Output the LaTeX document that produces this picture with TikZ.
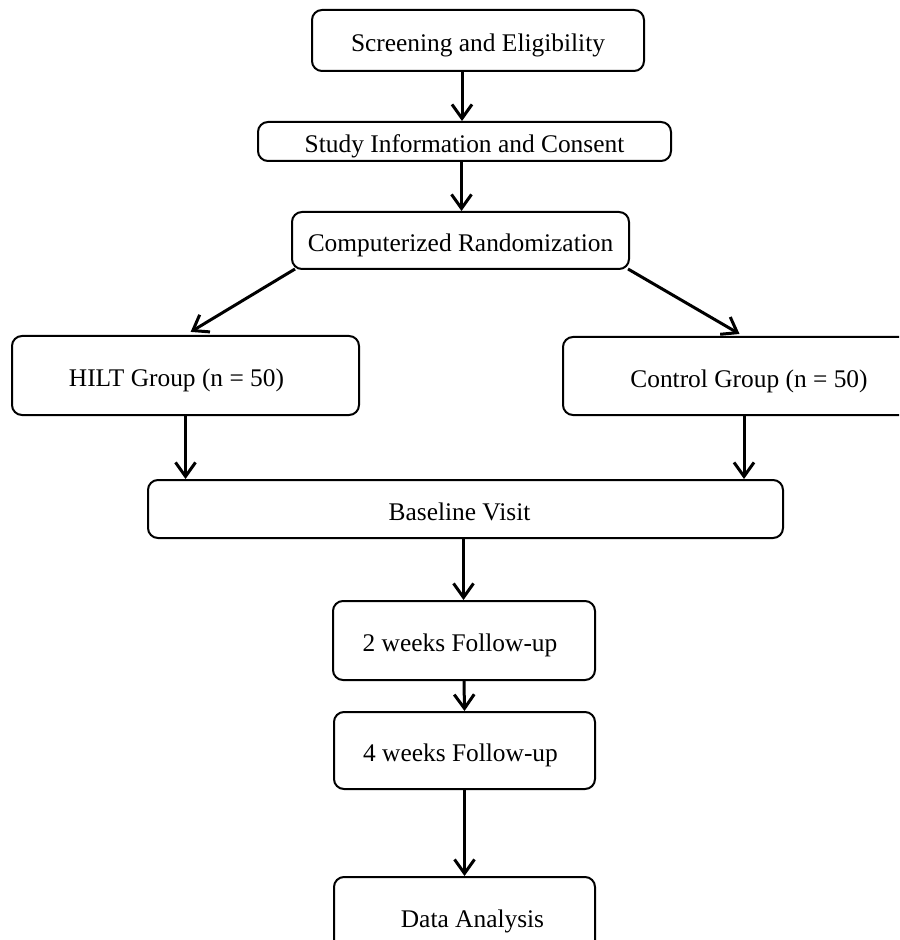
\documentclass[tikz,border=0pt]{standalone}
\usepackage{fontspec}
\setmainfont{Liberation Serif}
\usetikzlibrary{arrows.meta}
\begin{document}
\begin{tikzpicture}[x=0.5pt,y=-0.5pt,
  box/.style={draw,line width=1pt,rounded corners=5pt,inner sep=0pt,
    text height=11.3pt,text depth=0pt,font=\fontsize{12.7}{15}\selectfont},
  flow/.style={line width=1.5pt,-{Straight Barb[length=7pt,width=10pt,line width=1.5pt]}}]
\useasboundingbox (0,0) rectangle (899,940);
\clip (0,0) rectangle (899,940);
% boxes
\node[box,minimum width=166pt,minimum height=30.5pt] (screen) at (478,40.5) {Screening and Eligibility};
\node[box,minimum width=206.5pt,minimum height=19.5pt] (consent) at (464.5,141.5) {Study Information and Consent};
\node[box,minimum width=168.5pt,minimum height=28.5pt] (random) at (460.5,240.5) {Computerized Randomization};
\node[box,minimum width=173.5pt,minimum height=39.5pt] (hilt) at (185.5,375.5) {\hspace*{-9pt}HILT Group (n = 50)};
\node[box,minimum width=186pt,minimum height=39pt] (control) at (749,376) {Control Group (n = 50)};
\node[box,minimum width=317.5pt,minimum height=29pt] (base) at (465.5,509) {\hspace*{-6pt}Baseline Visit};
\node[box,minimum width=131pt,minimum height=39.5pt] (two) at (464,640.5) {\hspace*{-4pt}2 weeks Follow-up};
\node[box,minimum width=130.5pt,minimum height=38.5pt] (four) at (464.5,750.5) {\hspace*{-4pt}4 weeks Follow-up};
\node[box,minimum width=130.5pt,minimum height=39.5pt] (data) at (464.5,916.5) {\hspace*{8pt}Data Analysis};
% arrows
\draw[flow] ([xshift=-8pt]screen.south) -- ([xshift=-8pt]screen.south |- consent.north);
\draw[flow] ([xshift=-1.5pt]consent.south) -- ([xshift=-1.5pt]consent.south |- random.north);
\draw[flow,shorten >=3pt] ([xshift=2pt,yshift=0.5pt]random.south west) -- (hilt.north);
\draw[flow,shorten >=2pt] ([xshift=-1pt,yshift=0.5pt]random.south east) -- ([xshift=-3pt]control.north);
\draw[flow] (hilt.south) -- (hilt.south |- base.north);
\draw[flow] ([xshift=-2.5pt]control.south) -- ([xshift=-2.5pt]control.south |- base.north);
\draw[flow] ([xshift=-1pt]base.south) -- ([xshift=-1pt]base.south |- two.north);
\draw[flow] (two.south) -- (four.north);
\draw[flow] (four.south) -- (data.north);
\end{tikzpicture}
\end{document}
